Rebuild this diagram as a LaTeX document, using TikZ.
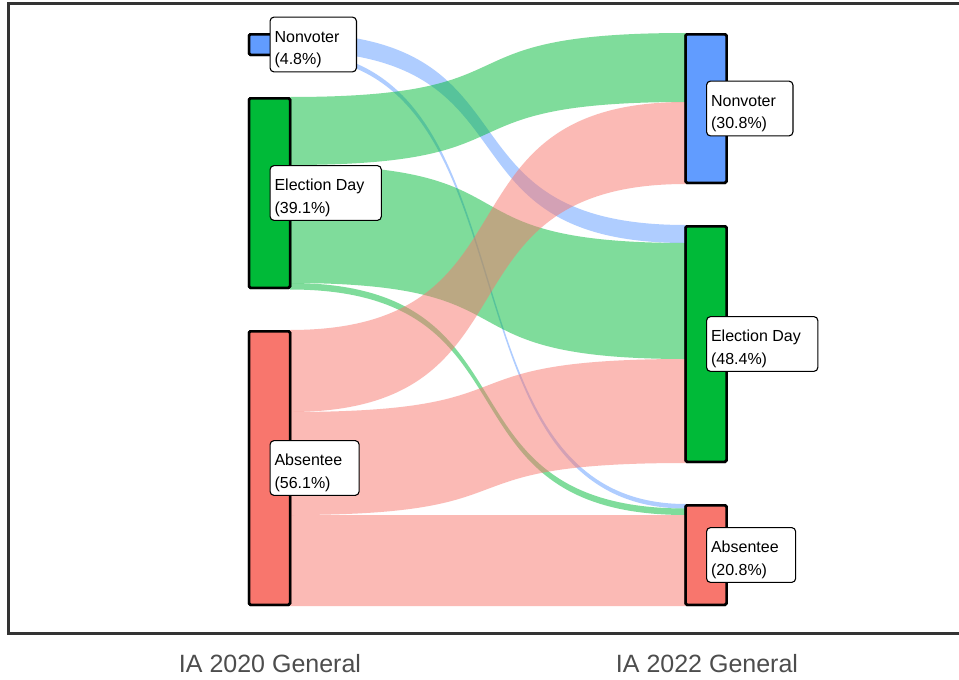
\documentclass[tikz,border=0pt]{standalone}
\usepackage{fontspec}
\setmainfont{Liberation Sans}
\definecolor{nvcol}{HTML}{619CFF}
\definecolor{edcol}{HTML}{00BA38}
\definecolor{abcol}{HTML}{F8766D}
\definecolor{framecol}{HTML}{333333}
\definecolor{axiscol}{HTML}{4D4D4D}
% one alluvial band between two bars; ends given as top/bottom y on each side
\newcommand{\sankeyflow}[7]{%
  \fill[flow,#1] (#2.east |- 0,#4) .. controls (546.75,#4) and (428.25,#6) .. (#3.west |- 0,#6)
    -- (#3.west |- 0,#7) .. controls (428.25,#7) and (546.75,#5) .. (#2.east |- 0,#5) -- cycle;}
\begin{document}
\begin{tikzpicture}[x=1pt,y=-1pt,
  bar/.style={draw=black, line width=2.5pt, rounded corners=1.5pt, minimum width=41pt,
    inner sep=0pt, outer sep=0pt},
  flow/.style={fill opacity=0.5},
  lab/.style={draw=black, line width=1.1pt, fill=white, rounded corners=4pt, align=left,
    anchor=west, inner xsep=4.5pt, inner ysep=4pt, text=black,
    font=\fontsize{16}{22.5}\selectfont},
  axislab/.style={anchor=base, text=axiscol, font=\fontsize{25}{30}\selectfont}]
\useasboundingbox (0,0) rectangle (959,680);
\fill[white] (0,0) rectangle (959,680);

% panel frame (open to the right)
\draw[framecol, line width=3pt] (959,3.5) -- (8.5,3.5) -- (8.5,633.5) -- (959,633.5);

% bar positions
\path
  node[bar, minimum height=20.5pt]  (lnv) at (269.5,44.5) {}
  node[bar, minimum height=189.5pt] (led) at (269.5,193) {}
  node[bar, minimum height=273.5pt] (lab) at (269.5,468) {}
  node[bar, minimum height=148.5pt] (rnv) at (706,108.5) {}
  node[bar, minimum height=235.5pt] (red) at (706,344) {}
  node[bar, minimum height=99.5pt]  (rab) at (706,555) {};

% flows, drawn group by group (Nonvoter, Election Day, Absentee)
\sankeyflow{nvcol}{lnv}{red}{33}{51}{225}{243}
\sankeyflow{nvcol}{lnv}{rab}{51}{56}{504}{508.5}
\sankeyflow{edcol}{led}{rnv}{97}{165}{33}{102}
\sankeyflow{edcol}{led}{red}{165}{283}{243}{359}
\sankeyflow{edcol}{led}{rab}{283}{289.5}{508.5}{515}
\sankeyflow{abcol}{lab}{rnv}{330}{412}{102}{184}
\sankeyflow{abcol}{lab}{red}{412}{515}{359}{463}
\sankeyflow{abcol}{lab}{rab}{515}{606}{515}{606}

% bars on top of the flows
\foreach \n/\c in {lnv/nvcol, led/edcol, lab/abcol, rnv/nvcol, red/edcol, rab/abcol}
  \draw[line width=2.5pt, rounded corners=1.5pt, fill=\c] (\n.north west) rectangle (\n.south east);

% labels
\node[lab] (tlnv) at (lnv.center) {\rule{0pt}{21pt}Nonvoter\hspace*{12.5pt}\\(4.8\%)};
\node[lab] (tled) at (led.center) {\rule{0pt}{21pt}Election Day\hspace*{12.5pt}\\(39.1\%)};
\node[lab] (tlab) at (lab.center) {\rule{0pt}{21pt}Absentee\hspace*{12.5pt}\\(56.1\%)};
\node[lab] (trnv) at (rnv.center) {\rule{0pt}{21pt}Nonvoter\hspace*{12.5pt}\\(30.8\%)};
\node[lab] (tred) at (red.center) {\rule{0pt}{21pt}Election Day\hspace*{12.5pt}\\(48.4\%)};
\node[lab] (trab) at (rab.center) {\rule{0pt}{21pt}Absentee\hspace*{12.5pt}\\(20.8\%)};

% axis labels
\node[axislab] (x1) at (270,672) {IA 2020 General};
\node[axislab] (x2) at (707,672) {IA 2022 General};
\end{tikzpicture}
\end{document}
